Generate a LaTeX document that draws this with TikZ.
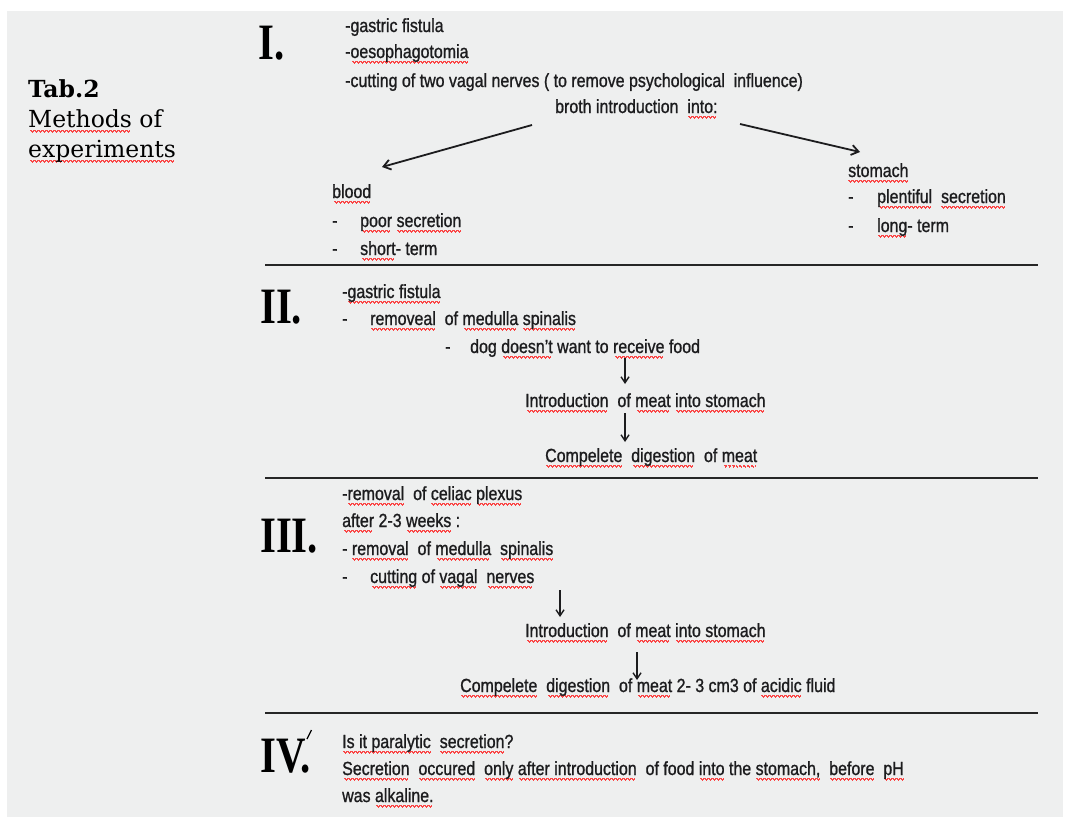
\documentclass[tikz,border=0pt]{standalone}
\usepackage{fontspec}
\usetikzlibrary{arrows.meta}
\setmainfont{Liberation Sans}
\newfontfamily\condfam[FakeStretch=0.84,FakeBold=1]{Liberation Sans}
\newfontfamily\romfam[FakeStretch=0.8]{Liberation Serif}
\newfontfamily\tabfam{DejaVu Serif}
\newcommand\condtxt{\condfam\fontsize{19}{22}\selectfont}
\newcommand\romtxt{\romfam\bfseries\fontsize{51}{55}\selectfont}
\definecolor{ink}{RGB}{28,28,30}
\definecolor{wavered}{RGB}{250,70,70}
\definecolor{bggray}{RGB}{238,239,239}
\newcommand\wavebox{\hbox{%
  \vrule width 1pt height -2.6pt depth 4.1pt%
  \vrule width 1pt height -3.4pt depth 4.9pt%
  \vrule width 1pt height -4.2pt depth 5.7pt%
  \vrule width 1pt height -3.4pt depth 4.9pt}}
\newsavebox\rwbox
\newcommand\rw[1]{\sbox\rwbox{#1}\rlap{\hbox to\wd\rwbox{\color{wavered}\cleaders\wavebox\hfill}}\usebox\rwbox}
\newcommand\dsh[1][28pt]{\makebox[#1][l]{-}}
\begin{document}
\begin{tikzpicture}[x=1pt,y=-1pt,
  txt/.style={anchor=base west, inner sep=0pt, font=\condtxt, text=ink},
  rom/.style={anchor=base west, inner sep=0pt, font=\romtxt, text=black},
  tabt/.style={anchor=base west, inner sep=0pt, font=\tabfam\fontsize{23.5}{27}\selectfont, text=black},
  rulel/.style={line width=2pt, draw=black!85},
  darr/.style={draw=ink, line width=1.8pt, -{Straight Barb[length=7pt,width=10pt]}},
  varr/.style={draw=ink, line width=1.4pt, -{Straight Barb[length=6pt,width=8pt]}}]
\useasboundingbox (0,0) rectangle (1067,817);
\fill[white] (0,0) rectangle (1067,817);
\fill[bggray] (7,11) rectangle (1063,817);
% title
\node[tabt, font=\tabfam\bfseries\fontsize{23.5}{27}\selectfont] (tab) at (28,97) {Tab.2};
\node[tabt] (meth) at (28,127) {\rw{Methods} of};
\node[tabt] (expt) at (28,157) {\rw{experiments}};
% section I
\node[rom] (r1) at (258,59) {I.};
\node[txt] (i1) at (345,32) {-gastric fistula};
\node[txt] (i2) at (345,58) {-\rw{oesophagotomia}};
\node[txt] (i3) at (345,87) {-cutting of two vagal nerves ( to remove psychological\ \ influence)};
\node[txt] (i4) at (555,113) {broth introduction\ \ \rw{into:}};
\node[txt] (b0) at (332,198) {\rw{blood}};
\node[txt] (b1) at (332,227) {\dsh\rw{poor}\ \rw{secretion}};
\node[txt] (b2) at (332,255) {\dsh\rw{short}- term};
\node[txt] (s0) at (848,177) {\rw{stomach}};
\node[txt] (s1) at (848,203) {\dsh[29pt]\rw{plentiful}\ \ \rw{secretion}};
\node[txt] (s2) at (848,232) {\dsh[29pt]\rw{long}- term};
\coordinate (la0) at (532,125);
\coordinate (la1) at (382,167);
\coordinate (ra0) at (740,124);
\coordinate (ra1) at (860,152);
\draw[darr] (la0) -- (la1);
\draw[darr] (ra0) -- (ra1);
\draw[rulel] (265,265) -- (1038,265);
% section II
\node[rom] (r2) at (260,323) {II.};
\node[txt] (ii1) at (342,298) {-\rw{gastric fistula}};
\node[txt] (ii2) at (342,325) {\dsh\rw{removeal}\ \ of \rw{medulla}\ \rw{spinalis}};
\node[txt] (ii3) at (445,353) {\dsh[25pt]dog \rw{doesn’t}\ want to \rw{receive}\ food};
\node[txt] (ii4) at (525,407) {\rw{Introduction}\ \ of \rw{meat}\ \rw{into stomach}};
\node[txt] (ii5) at (545,462) {\rw{Compelete}\ \ \rw{digestion}\ \ of \rw{meat}};
\coordinate (a1s) at (625,358);
\coordinate (a1e) at (625,384);
\coordinate (a2s) at (625,413);
\coordinate (a2e) at (625,442);
\draw[varr] (a1s) -- (a1e);
\draw[varr] (a2s) -- (a2e);
\draw[rulel] (265,478) -- (1038,478);
% section III
\node[rom] (r3) at (260,552) {III.};
\node[txt] (iii1) at (342,500) {-\rw{removal}\ \ of \rw{celiac}\ \rw{plexus}};
\node[txt] (iii2) at (342,527) {\rw{after}\ 2-3 \rw{weeks}\ :};
\node[txt] (iii3) at (342,555) {- \rw{removal}\ \ of \rw{medulla}\ \ \rw{spinalis}};
\node[txt] (iii4) at (342,583) {\dsh\rw{cutting}\ of \rw{vagal}\ \ \rw{nerves}};
\node[txt] (iii5) at (525,637) {\rw{Introduction}\ \ of \rw{meat}\ \rw{into stomach}};
\node[txt] (iii6) at (460,692) {\rw{Compelete}\ \ \rw{digestion}\ \ of \rw{meat}\ 2- 3 cm3 of \rw{acidic}\ fluid};
\coordinate (a3s) at (560,590);
\coordinate (a3e) at (560,617);
\coordinate (a4s) at (637,652);
\coordinate (a4e) at (637,680);
\draw[varr] (a3s) -- (a3e);
\draw[varr] (a4s) -- (a4e);
\draw[rulel] (265,713) -- (1038,713);
% section IV
\node[rom] (r4) at (260,772) {IV.};
\coordinate (tk0) at (311.5,730);
\coordinate (tk1) at (307,739);
\draw[line width=1.2pt, draw=black] (tk0) -- (tk1);
\node[txt] (iv1) at (342,748) {\rw{Is it paralytic}\ \ \rw{secretion}?};
\node[txt] (iv2) at (342,775) {\rw{Secretion}\ \ \rw{occured}\ \ \rw{only}\ \rw{after introduction}\ \ of food \rw{into}\ the \rw{stomach,}\ \ \rw{before}\ \ \rw{pH}};
\node[txt] (iv3) at (342,802) {was \rw{alkaline.}};
\end{tikzpicture}
\end{document}
